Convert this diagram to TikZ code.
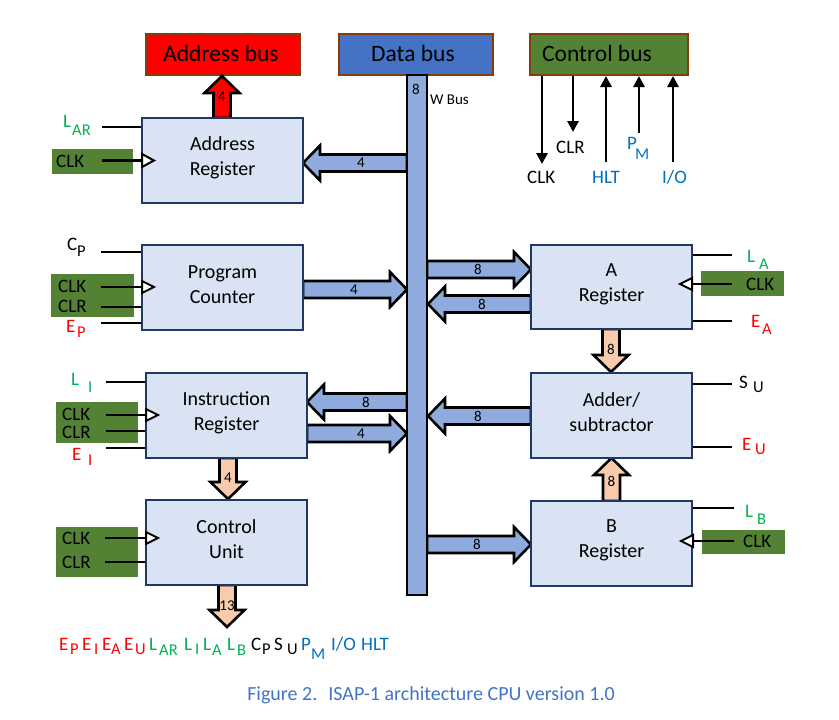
\documentclass[tikz,border=0pt]{standalone}
\usepackage{fontspec}
\setmainfont{Carlito}
\usetikzlibrary{arrows.meta}
\definecolor{boxfill}{HTML}{DAE3F3}
\definecolor{boxline}{HTML}{1F3864}
\definecolor{wbus}{HTML}{8FAADC}
\definecolor{dbus}{HTML}{4472C4}
\definecolor{cgreen}{HTML}{548235}
\definecolor{abred}{HTML}{FF0000}
\definecolor{orng}{HTML}{F8CBAD}
\definecolor{brn}{HTML}{843C0C}
\definecolor{lgreen}{HTML}{00B050}
\definecolor{lblue}{HTML}{0070C0}
\definecolor{lred}{HTML}{FF0000}
\definecolor{capblue}{HTML}{4472C4}
\newcommand\sbx[2][6]{\raisebox{-#1pt}{\fontsize{16.5}{18}\selectfont #2}}
\newcommand\pcx[2]{\makebox[#1pt][l]{#2}}
\newcommand\harr[6]{%
 \pgfmathsetmacro\hbx{#3-((#3>#2)?17:-17)}%
 \draw[blk, fill=#1] (#2,#4-8.5) -- (\hbx,#4-8.5) -- (\hbx,#4-17.5) -- (#3,#4) -- (\hbx,#4+17.5) -- (\hbx,#4+8.5) -- (#2,#4+8.5) -- cycle;
 \node[num] at (#6,#4) {#5};}
\newcommand\varr[6]{%
 \pgfmathsetmacro\hby{#4-((#4>#3)?17:-17)}%
 \draw[blk, fill=#1] (#2-8.5,#3) -- (#2-8.5,\hby) -- (#2-17.5,\hby) -- (#2,#4) -- (#2+17.5,\hby) -- (#2+8.5,\hby) -- (#2+8.5,#3) -- cycle;
 \node[num] at (#2,#6) {#5};}
\tikzset{
 box/.style={draw=boxline, fill=boxfill, line width=2.2pt, minimum width=161pt, minimum height=85pt, inner sep=0pt},
 boxtxt/.style={align=center, font=\fontsize{20}{25}\selectfont, inner sep=0pt},
 busbox/.style={draw=brn, line width=1.8pt, minimum width=154pt, minimum height=41pt, inner sep=0pt},
 bustxt/.style={font=\fontsize{23.5}{28}\selectfont, inner sep=0pt, anchor=base},
 blk/.style={draw=black, line width=2.6pt, line join=miter},
 num/.style={font=\fontsize{15}{17}\selectfont, inner sep=0pt},
 sig/.style={draw=black, line width=2.6pt},
 clkbox/.style={fill=cgreen, draw=none},
 lab/.style={font=\fontsize{19}{22}\selectfont, inner sep=0pt, anchor=base west},
 clktri/.style={draw=black, fill=white, line width=2pt, line join=miter},
 cba/.style={draw=black, line width=2.8pt, -{Triangle[width=11pt,length=11pt]}}
}
\begin{document}
\begin{tikzpicture}[x=1pt,y=-1pt]
\useasboundingbox (0,0) rectangle (839,720);
% control bus arrows
\draw[cba] (542,75) -- (542,164);
\draw[cba] (573,75) -- (573,132);
\draw[cba] (606,162) -- (606,76);
\draw[cba] (639,133) -- (639,76);
\draw[cba] (673,162) -- (673,76);
% buses
\node[busbox, fill=abred] (abus) at (223,54.5) {};
\node[bustxt] (abust) at (221,61) {Address bus};
\node[busbox, fill=dbus] (dbus) at (416,54.5) {};
\node[bustxt] (dbust) at (413,61) {Data bus};
\node[busbox, fill=cgreen, minimum width=158pt] (cbus) at (609,54.5) {};
\node[bustxt] (cbust) at (597,61) {Control bus};
% control bus labels
\node[lab] (cclk) at (527,183) {CLK};
\node[lab] (cclr) at (556,153) {CLR};
\node[lab, text=lblue] (chlt) at (592,183) {HLT};
\node[lab, text=lblue] (cpm) at (627,149) {\pcx{8}{P}\sbx[10]{M}};
\node[lab, text=lblue] (cio) at (662,183) {I/O};
% block arrows
\varr{abred}{222}{118}{76}{4}{97}
\harr{wbus}{407}{303}{163}{4}{361}
\harr{wbus}{303}{407}{289.5}{4}{354}
\harr{wbus}{407}{307}{402}{8}{366}
\harr{wbus}{307}{407}{433.5}{4}{361}
\varr{orng}{228}{458}{499}{4}{478}
\varr{orng}{227}{585}{627}{13}{606}
\harr{wbus}{427}{531}{269.5}{8}{478}
\harr{wbus}{531}{428}{304}{8}{482}
\varr{orng}{611}{329}{372}{8}{349}
\harr{wbus}{531}{428}{416}{8}{478}
\varr{orng}{611.5}{501}{458}{8}{481}
\harr{wbus}{427}{531}{544.5}{8}{477}
% green clock panels
\fill[clkbox] (52,149) rectangle (133,174);
\fill[clkbox] (51,274) rectangle (134,317);
\fill[clkbox] (56,402) rectangle (138,443);
\fill[clkbox] (56,527) rectangle (138,577);
\fill[clkbox] (701,271) rectangle (784,296);
\fill[clkbox] (702,530) rectangle (785,554);
% signal lines
\draw[sig] (102,127) -- (142,127);
\draw[sig] (102,160.5) -- (142,160.5);
\draw[sig] (101,252) -- (142,252);
\draw[sig] (101,287) -- (142,287);
\draw[sig] (101,307) -- (142,307);
\draw[sig] (101,323) -- (142,323);
\draw[sig] (106,382) -- (146,382);
\draw[sig] (106,415) -- (146,415);
\draw[sig] (106,431) -- (146,431);
\draw[sig] (106,448) -- (146,448);
\draw[sig] (105,538) -- (146,538);
\draw[sig] (105,562) -- (146,562);
\draw[sig] (692,255) -- (732,255);
\draw[sig] (692,284) -- (732,284);
\draw[sig] (692,321) -- (732,321);
\draw[sig] (692,384) -- (732,384);
\draw[sig] (692,447) -- (732,447);
\draw[sig] (693,508) -- (734,508);
\draw[sig] (693,541) -- (734,541);
% boxes
\node[box] (ar) at (222.5,160.5) {};
\node[boxtxt] (art) at (222.5,157.5) {Address\\Register};
\node[box] (pc) at (222.5,287.5) {};
\node[boxtxt] (pct) at (222.5,284.5) {Program\\Counter};
\node[box] (ir) at (226.5,415.5) {};
\node[boxtxt] (irt) at (226.5,412.5) {Instruction\\Register};
\node[box] (cu) at (226.5,542.5) {};
\node[boxtxt] (cut) at (226.5,539.5) {Control\\Unit};
\node[box, minimum height=84pt] (areg) at (611.5,287) {};
\node[boxtxt] (aregt) at (611.5,284) {A\\Register};
\node[box] (add) at (611.5,415.5) {};
\node[boxtxt] (addt) at (611.5,412.5) {Adder/\\subtractor};
\node[box] (breg) at (611.5,543.5) {};
\node[boxtxt] (bregt) at (611.5,540.5) {B\\Register};
% clock triangles
\draw[clktri] (142,154) -- (154,160.5) -- (142,167) -- cycle;
\draw[clktri] (142,281) -- (154,287) -- (142,293) -- cycle;
\draw[clktri] (146,409) -- (158,415) -- (146,421) -- cycle;
\draw[clktri] (146,532) -- (158,538) -- (146,544) -- cycle;
\draw[clktri] (692,278) -- (680,284) -- (692,290) -- cycle;
\draw[clktri] (693,535) -- (681,541) -- (693,547) -- cycle;
% W bus
\draw[blk, fill=wbus] (407,75) rectangle (427,595);
\node[num] (w8) at (416,89) {8};
\node[num, anchor=west] (wbt) at (430,100) {W Bus};
% left labels
\node[lab, text=lgreen] (lar) at (63,127) {\pcx{9}{L}\sbx[8]{AR}};
\node[lab] (ck1) at (56,167) {CLK};
\node[lab] (cpl) at (67,250) {\pcx{10}{C}\sbx[6]{P}};
\node[lab] (ck2) at (58,292) {CLK};
\node[lab] (cr2) at (58,312) {CLR};
\node[lab, text=lred] (epl) at (66,332) {\pcx{11}{E}\sbx[5]{P}};
\node[lab, text=lgreen] (lil) at (71,385) {\pcx{17}{L}\sbx[7]{I}};
\node[lab] (ck3) at (62,420) {CLK};
\node[lab] (cr3) at (62,438) {CLR};
\node[lab, text=lred] (eil) at (72,460) {\pcx{16}{E}\sbx[5]{I}};
\node[lab] (ck4) at (62,544) {CLK};
\node[lab] (cr4) at (62,568) {CLR};
% right labels
\node[lab, text=lgreen] (lal) at (747,262) {\pcx{12}{L}\sbx[7]{A}};
\node[lab] (ck5) at (746,290) {CLK};
\node[lab, text=lred] (eal) at (751,327) {\pcx{11}{E}\sbx[7]{A}};
\node[lab] (sul) at (739,388) {\pcx{14}{S}\sbx[4]{U}};
\node[lab, text=lred] (eul) at (742,450) {\pcx{13}{E}\sbx[4]{U}};
\node[lab, text=lgreen] (lbl) at (745,517) {\pcx{12}{L}\sbx[7]{B}};
\node[lab] (ck6) at (743,547) {CLK};
% bottom control word
\node[lab] (cw) at (59,650) {{\color{lred}\pcx{11}{E}\pcx{12}{\sbx[4]{P}}\pcx{12}{E}\pcx{8}{\sbx[4]{I}}\pcx{9}{E}\pcx{13}{\sbx[4]{A}}\pcx{11}{E}\pcx{14}{\sbx[4]{U}}}{\color{lgreen}\pcx{10}{L}\pcx{25}{\sbx[5]{AR}}\pcx{11}{L}\pcx{8}{\sbx[4]{I}}\pcx{9}{L}\pcx{15}{\sbx[5]{A}}\pcx{10}{L}\pcx{14}{\sbx[5]{B}}}\pcx{11}{C}\pcx{12}{\sbx[4]{P}}\pcx{13}{S}\pcx{14}{\sbx[4]{U}}{\color{lblue}\pcx{10}{P}\pcx{20}{\sbx[9]{M}}\pcx{30}{I/O}HLT}};
% caption
\node[font=\fontsize{20}{24}\selectfont, text=capblue, inner sep=0pt] (cap) at (431,695) {Figure 2.\hspace{0.25em} ISAP-1 architecture CPU version 1.0};
\end{tikzpicture}
\end{document}
